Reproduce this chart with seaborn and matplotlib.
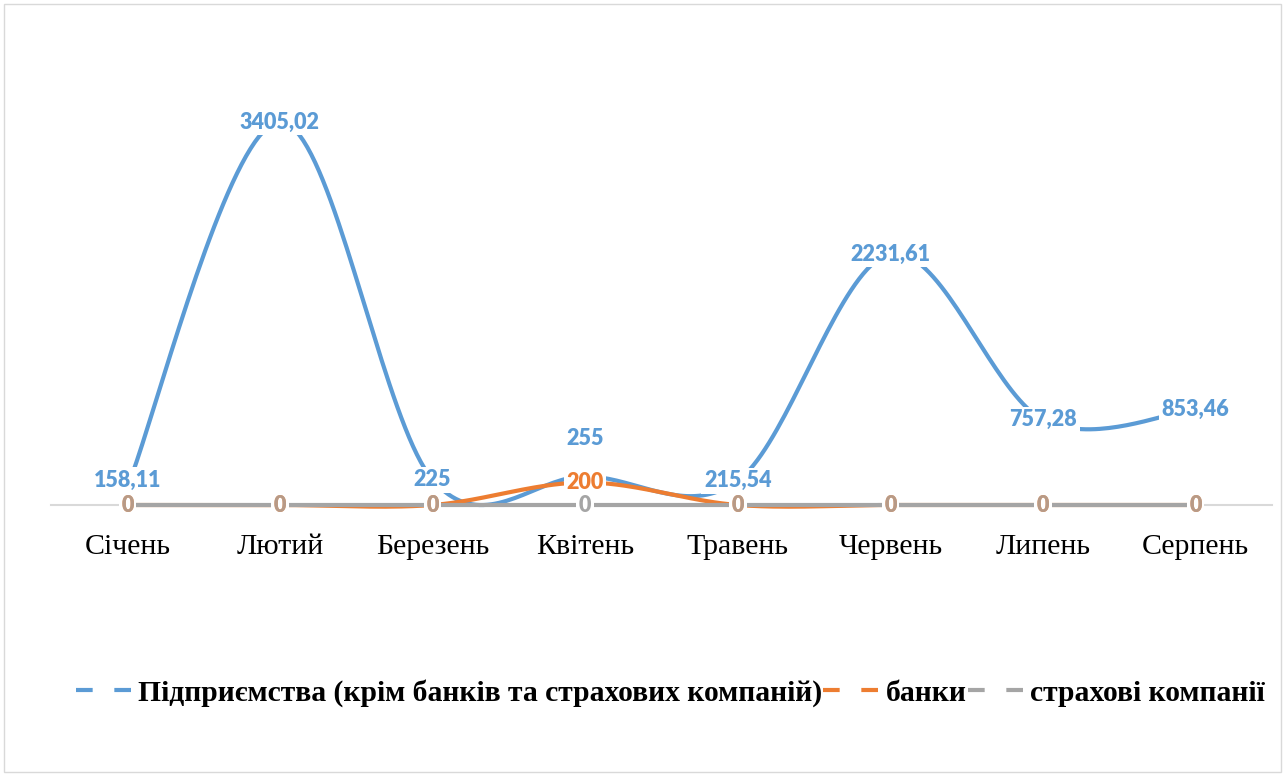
import numpy as np
import pandas as pd
import matplotlib
matplotlib.use("Agg")
import matplotlib.pyplot as plt
from matplotlib.lines import Line2D
from matplotlib.patches import Rectangle
import seaborn as sns

months = ["Січень", "Лютий", "Березень", "Квітень", "Травень", "Червень", "Липень", "Серпень"]
enterprises = [158.11, 3405.02, 225, 255, 215.54, 2231.61, 757.28, 853.46]
banks = [0, 0, 0, 200, 0, 0, 0, 0]
insurance = [0, 0, 0, 0, 0, 0, 0, 0]
series_names = ["Підприємства (крім банків та страхових компаній)", "банки", "страхові компанії"]
colors = ["#5B9BD5", "#ED7D31", "#A5A5A5"]


def smooth(xs, ys, n=40):
    """Excel-style smoothed line: cubic Bezier with Catmull-Rom control points."""
    xs = np.asarray(xs, float)
    ys = np.asarray(ys, float)
    px = np.concatenate([[xs[0]], xs, [xs[-1]]])
    py = np.concatenate([[ys[0]], ys, [ys[-1]]])
    outx, outy = [], []
    t = np.linspace(0, 1, n)
    for i in range(1, len(px) - 2):
        p0x, p0y = px[i], py[i]
        p3x, p3y = px[i + 1], py[i + 1]
        c1x = p0x + (px[i + 1] - px[i - 1]) / 6
        c1y = p0y + (py[i + 1] - py[i - 1]) / 6
        c2x = p3x - (px[i + 2] - px[i]) / 6
        c2y = p3y - (py[i + 2] - py[i]) / 6
        bx = (1 - t) ** 3 * p0x + 3 * (1 - t) ** 2 * t * c1x + 3 * (1 - t) * t ** 2 * c2x + t ** 3 * p3x
        by = (1 - t) ** 3 * p0y + 3 * (1 - t) ** 2 * t * c1y + 3 * (1 - t) * t ** 2 * c2y + t ** 3 * p3y
        outx.extend(bx if i == 1 else bx[1:])
        outy.extend(by if i == 1 else by[1:])
    return np.array(outx), np.array(outy)


sns.set_theme(style="white")
plt.rcParams["font.family"] = ["DejaVu Sans"]
plt.rcParams["text.color"] = "black"

fig = plt.figure(figsize=(12.84, 7.76), dpi=100)
fig.patch.set_facecolor("white")
ax = fig.add_axes([51 / 1284, 1 - 505 / 776, (1272 - 51) / 1284, 450 / 776])

x = np.arange(len(months))
all_series = [enterprises, banks, insurance]
for vals, name, col in zip(all_series, series_names, colors):
    sx, sy = smooth(x, vals)
    df = pd.DataFrame({"x": sx, "y": sy})
    sns.lineplot(data=df, x="x", y="y", ax=ax, color=col, linewidth=3,
                 sort=False, estimator=None, clip_on=False, legend=False)

ax.set_xlim(-0.5, len(months) - 0.5)
ax.set_ylim(0, 4000)
ax.set_xticks(x)
ax.set_xticklabels(months, fontfamily="Liberation Serif", fontsize=21.5, color="black")
ax.tick_params(axis="x", length=0, pad=21)
ax.set_yticks([])
ax.set_xlabel("")
ax.set_ylabel("")
for s in ["top", "right", "left"]:
    ax.spines[s].set_visible(False)
ax.spines["bottom"].set_color("#D9D9D9")
ax.spines["bottom"].set_linewidth(1.5)
ax.spines["bottom"].set_zorder(0)


def fmt(v):
    if float(v).is_integer():
        return str(int(v))
    return f"{v:.2f}".replace(".", ",")


label_font = dict(fontfamily="Lato", fontweight="heavy", fontsize=15.5)
box = dict(boxstyle="square,pad=0.12", facecolor="white", edgecolor="none")
# enterprises labels (two are nudged up to clear the labels below them)
offsets = {"Січень": 5, "Квітень": 27}
for i, v in enumerate(enterprises):
    dy = offsets.get(months[i], 0)
    ax.annotate(fmt(v), (i, v), xytext=(0, dy), textcoords="offset points",
                ha="center", va="center", color=colors[0], bbox=box, zorder=5,
                annotation_clip=False, **label_font)
for i, v in enumerate(banks):
    ax.annotate(fmt(v), (i, v), ha="center", va="center", color=colors[1],
                bbox=box, zorder=6, annotation_clip=False, **label_font)
for i, v in enumerate(insurance):
    if banks[i] == 0:
        ax.annotate(fmt(v), (i, v), ha="center", va="center", color=colors[2],
                    alpha=0.75, zorder=7, annotation_clip=False, **label_font)
    else:
        ax.annotate(fmt(v), (i, v), ha="center", va="center", color=colors[2],
                    bbox=box, zorder=7, annotation_clip=False, **label_font)

handles = [Line2D([0], [0], color=c, linewidth=3, dashes=(4.0, 5.2)) for c in colors]
leg = fig.legend(handles, series_names, loc="center", bbox_to_anchor=(0.522, 1 - 693 / 776),
                 ncol=3, frameon=False, handlelength=1.9, handletextpad=0.2,
                 columnspacing=0.05, labelcolor="black",
                 prop=dict(family="Liberation Serif", weight="bold", size=21.3))

fig.add_artist(Rectangle((4 / 1284, 4 / 776), 1277 / 1284, 768 / 776, transform=fig.transFigure,
                         facecolor="none", edgecolor="#D9D9D9", linewidth=1))

fig.savefig("out.png", dpi=100)
